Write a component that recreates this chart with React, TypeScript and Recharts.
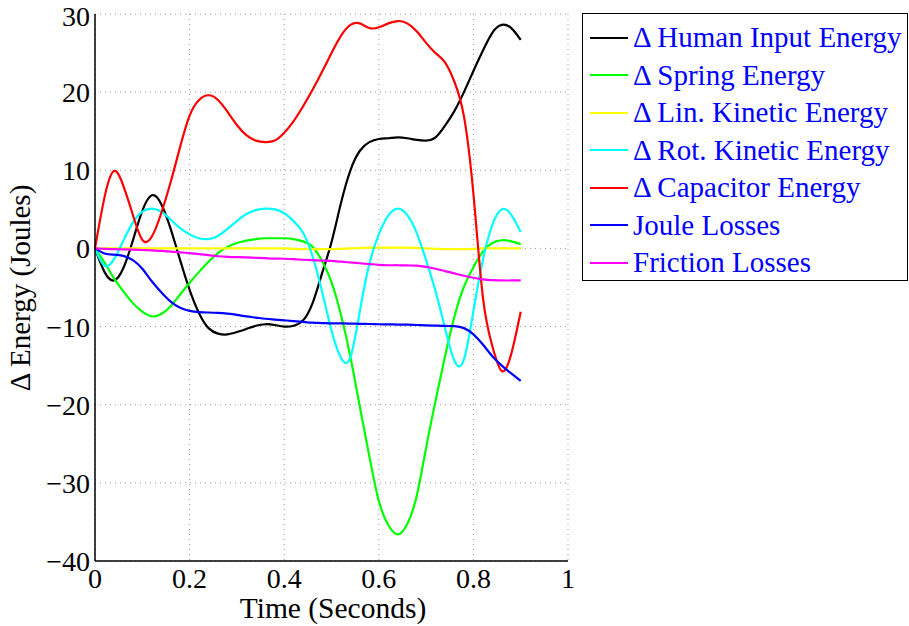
import { LineChart, Line, XAxis, YAxis, CartesianGrid, Legend, Label } from 'recharts'

// sample times (seconds), every 0.02 s
const TIMES = [
  0, 0.02, 0.04, 0.06, 0.08, 0.1, 0.12, 0.14, 0.16, 0.18, 0.2, 0.22, 0.24, 0.26, 0.28, 0.3,
  0.32, 0.34, 0.36, 0.38, 0.4, 0.42, 0.44, 0.46, 0.48, 0.5, 0.52, 0.54, 0.56, 0.58, 0.6,
  0.62, 0.64, 0.66, 0.68, 0.7, 0.72, 0.74, 0.76, 0.78, 0.8, 0.82, 0.84, 0.86, 0.88, 0.9,
]

const HUMAN = [
  0, -3.0, -4.1, -2.5, 1.0, 4.8, 6.8, 5.7, 2.5, -1.5, -5.3, -8.3, -10.2, -10.9, -11.0, -10.7,
  -10.3, -9.9, -9.7, -9.8, -10.0, -9.9, -9.2, -7.0, -3.2, 0.8, 5.8, 10.0, 12.5, 13.6, 14.0,
  14.1, 14.2, 14.1, 13.9, 13.8, 14.2, 15.7, 17.6, 20.0, 22.7, 25.3, 27.6, 28.6, 28.2, 26.7,
]

const SPRING = [
  0, -1.8, -3.8, -5.5, -7.0, -8.1, -8.7, -8.4, -7.4, -5.9, -4.4, -3.0, -1.7, -0.6, 0.2, 0.7,
  1.0, 1.2, 1.3, 1.3, 1.3, 1.2, 0.9, 0.2, -1.6, -4.3, -8.5, -13.9, -20.3, -26.6, -32.3,
  -35.4, -36.6, -35.3, -31.7, -25.5, -19.5, -13.8, -8.7, -4.9, -2.4, -0.4, 0.7, 1.05, 0.9, 0.55,
]

const LIN_KINETIC = [
  0, 0, 0, 0, 0, 0, 0, 0, 0, 0, 0, 0, 0, 0, 0, 0,
  0, 0, 0, 0, 0, -0.05, -0.1, -0.1, -0.1, -0.1, -0.05, 0, 0.05, 0.1, 0.1,
  0.1, 0.1, 0.1, 0.05, 0, -0.05, -0.1, -0.1, -0.1, -0.05, 0, 0, 0, 0, 0,
]

const ROT_KINETIC = [
  0, -2.2, -1.4, 1.0, 3.3, 4.7, 5.1, 4.7, 3.7, 2.6, 1.8, 1.3, 1.2, 1.6, 2.5, 3.5,
  4.4, 4.9, 5.1, 5.0, 4.5, 3.5, 2.0, -1.0, -5.5, -10.5, -14.0, -13.9, -8.0, -2.0, 1.8,
  4.2, 5.1, 4.3, 2.0, -1.5, -5.5, -10.2, -14.4, -14.2, -8.0, -1.5, 3.0, 5.0, 4.3, 2.1,
]

const CAPACITOR = [
  0, 6.5, 9.9, 8.0, 4.3, 1.1, 1.5, 4.5, 8.5, 13.0, 17.0, 19.0, 19.6, 19.0, 17.5, 15.8,
  14.5, 13.8, 13.6, 13.8, 14.8, 16.3, 18.2, 20.3, 22.6, 25.0, 27.2, 28.6, 28.8, 28.2, 28.3,
  28.8, 29.1, 28.8, 27.8, 26.3, 25.0, 23.8, 21.3, 16.9, 7.0, -6.2, -12.5, -15.7, -13.5, -8.1,
]

const JOULE = [
  0, -0.65, -0.8, -0.95, -1.5, -2.6, -4.2, -5.6, -6.8, -7.6, -8.0, -8.15, -8.2, -8.25, -8.35, -8.5,
  -8.7, -8.85, -9.0, -9.1, -9.2, -9.3, -9.4, -9.5, -9.55, -9.6, -9.6, -9.62, -9.65, -9.67, -9.7,
  -9.72, -9.74, -9.76, -9.8, -9.84, -9.88, -9.92, -9.95, -10.2, -11.0, -12.3, -13.8, -15.0, -16.0, -16.95,
]

const FRICTION = [
  0, -0.05, -0.1, -0.12, -0.15, -0.2, -0.25, -0.32, -0.4, -0.5, -0.6, -0.72, -0.86, -1.0, -1.08, -1.12,
  -1.15, -1.2, -1.25, -1.3, -1.32, -1.38, -1.45, -1.5, -1.55, -1.6, -1.7, -1.8, -1.9, -2.0, -2.1,
  -2.15, -2.15, -2.18, -2.2, -2.35, -2.6, -2.9, -3.2, -3.5, -3.75, -3.95, -4.05, -4.1, -4.1, -4.1,
]

const X_TICKS = [0, 0.2, 0.4, 0.6, 0.8, 1]
const Y_TICKS = [-40, -30, -20, -10, 0, 10, 20, 30]

const SERIES = [
  { key: 'human', name: '\u0394 Human Input Energy', color: '#000000', values: HUMAN },
  { key: 'spring', name: '\u0394 Spring Energy', color: '#00ff00', values: SPRING },
  { key: 'lin', name: '\u0394 Lin. Kinetic Energy', color: '#ffff00', values: LIN_KINETIC },
  { key: 'rot', name: '\u0394 Rot. Kinetic Energy', color: '#00ffff', values: ROT_KINETIC },
  { key: 'cap', name: '\u0394 Capacitor Energy', color: '#ff0000', values: CAPACITOR },
  { key: 'joule', name: 'Joule Losses', color: '#0000ff', values: JOULE },
  { key: 'friction', name: 'Friction Losses', color: '#ff00ff', values: FRICTION },
]

const data = TIMES.map((t, i) => {
  const row: Record<string, number> = { t }
  SERIES.forEach((s) => {
    row[s.key] = s.values[i]
  })
  return row
})

const FONT = '"Liberation Serif", "Times New Roman", serif'

const fmtY = (v: number) => (v < 0 ? `\u2212${Math.abs(v)}` : String(v))

function LegendBox() {
  return (
    <div
      style={{
        width: 326,
        height: 268,
        border: '1px solid #000',
        background: '#fff',
        fontFamily: FONT,
        fontSize: 29,
        color: '#0000ff',
        boxSizing: 'border-box',
        paddingTop: 5,
      }}
    >
      {SERIES.map((s) => (
        <div key={s.key} style={{ display: 'flex', alignItems: 'center', height: 37.5, whiteSpace: 'nowrap' }}>
          <span style={{ display: 'inline-block', width: 38, height: 2, background: s.color, marginLeft: 7, marginRight: 5 }} />
          <span>{s.name}</span>
        </div>
      ))}
    </div>
  )
}

export default function App() {
  return (
    <div style={{ position: 'absolute', left: 0, top: 0, width: 909, height: 626, background: '#fff' }}>
      <LineChart width={909} height={626} data={data} margin={{ top: 14, right: 341, bottom: 0, left: 0 }}>
        <CartesianGrid stroke="#999" strokeDasharray="1 4" />
        <XAxis
          dataKey="t"
          type="number"
          domain={[0, 1]}
          ticks={X_TICKS}
          tickFormatter={(v) => String(v)}
          height={65}
          tickLine={false}
          tickSize={0}
          tickMargin={7}
          axisLine={{ stroke: '#000', strokeWidth: 1.5 }}
          tick={{ fill: '#000', fontSize: 28, fontFamily: FONT }}
        >
          <Label
            content={() => (
              <text x={333} y={618} textAnchor="middle" fill="#000" fontSize={29.5} fontFamily={FONT}>
                Time (Seconds)
              </text>
            )}
          />
        </XAxis>
        <XAxis xAxisId="top" orientation="top" type="number" domain={[0, 1]} height={0} tick={false} tickLine={false} axisLine={{ stroke: '#000', strokeWidth: 1.5 }} />
        <YAxis
          type="number"
          domain={[-40, 30]}
          ticks={Y_TICKS}
          tickFormatter={fmtY}
          width={95}
          tickLine={false}
          tickSize={0}
          tickMargin={5}
          axisLine={{ stroke: '#000', strokeWidth: 1.5 }}
          tick={{ fill: '#000', fontSize: 28, fontFamily: FONT }}
          allowDataOverflow
        >
          <Label
            content={() => (
              <text x={30} y={288} transform="rotate(-90, 30, 288)" textAnchor="middle" fill="#000" fontSize={29} fontFamily={FONT}>
                {'\u0394 Energy (Joules)'}
              </text>
            )}
          />
        </YAxis>
        <YAxis yAxisId="right" orientation="right" type="number" domain={[-40, 30]} width={0} tick={false} tickLine={false} axisLine={{ stroke: '#000', strokeWidth: 1.5 }} />
        {SERIES.map((s) => (
          <Line
            key={s.key}
            type="natural"
            dataKey={s.key}
            name={s.name}
            stroke={s.color}
            strokeWidth={2.2}
            dot={false}
            isAnimationActive={false}
          />
        ))}
        <Legend
          layout="horizontal"
          verticalAlign="middle"
          align="center"
          wrapperStyle={{ position: 'absolute', left: 582, top: 13, width: 326, height: 268 }}
          content={() => <LegendBox />}
        />
      </LineChart>
    </div>
  )
}
